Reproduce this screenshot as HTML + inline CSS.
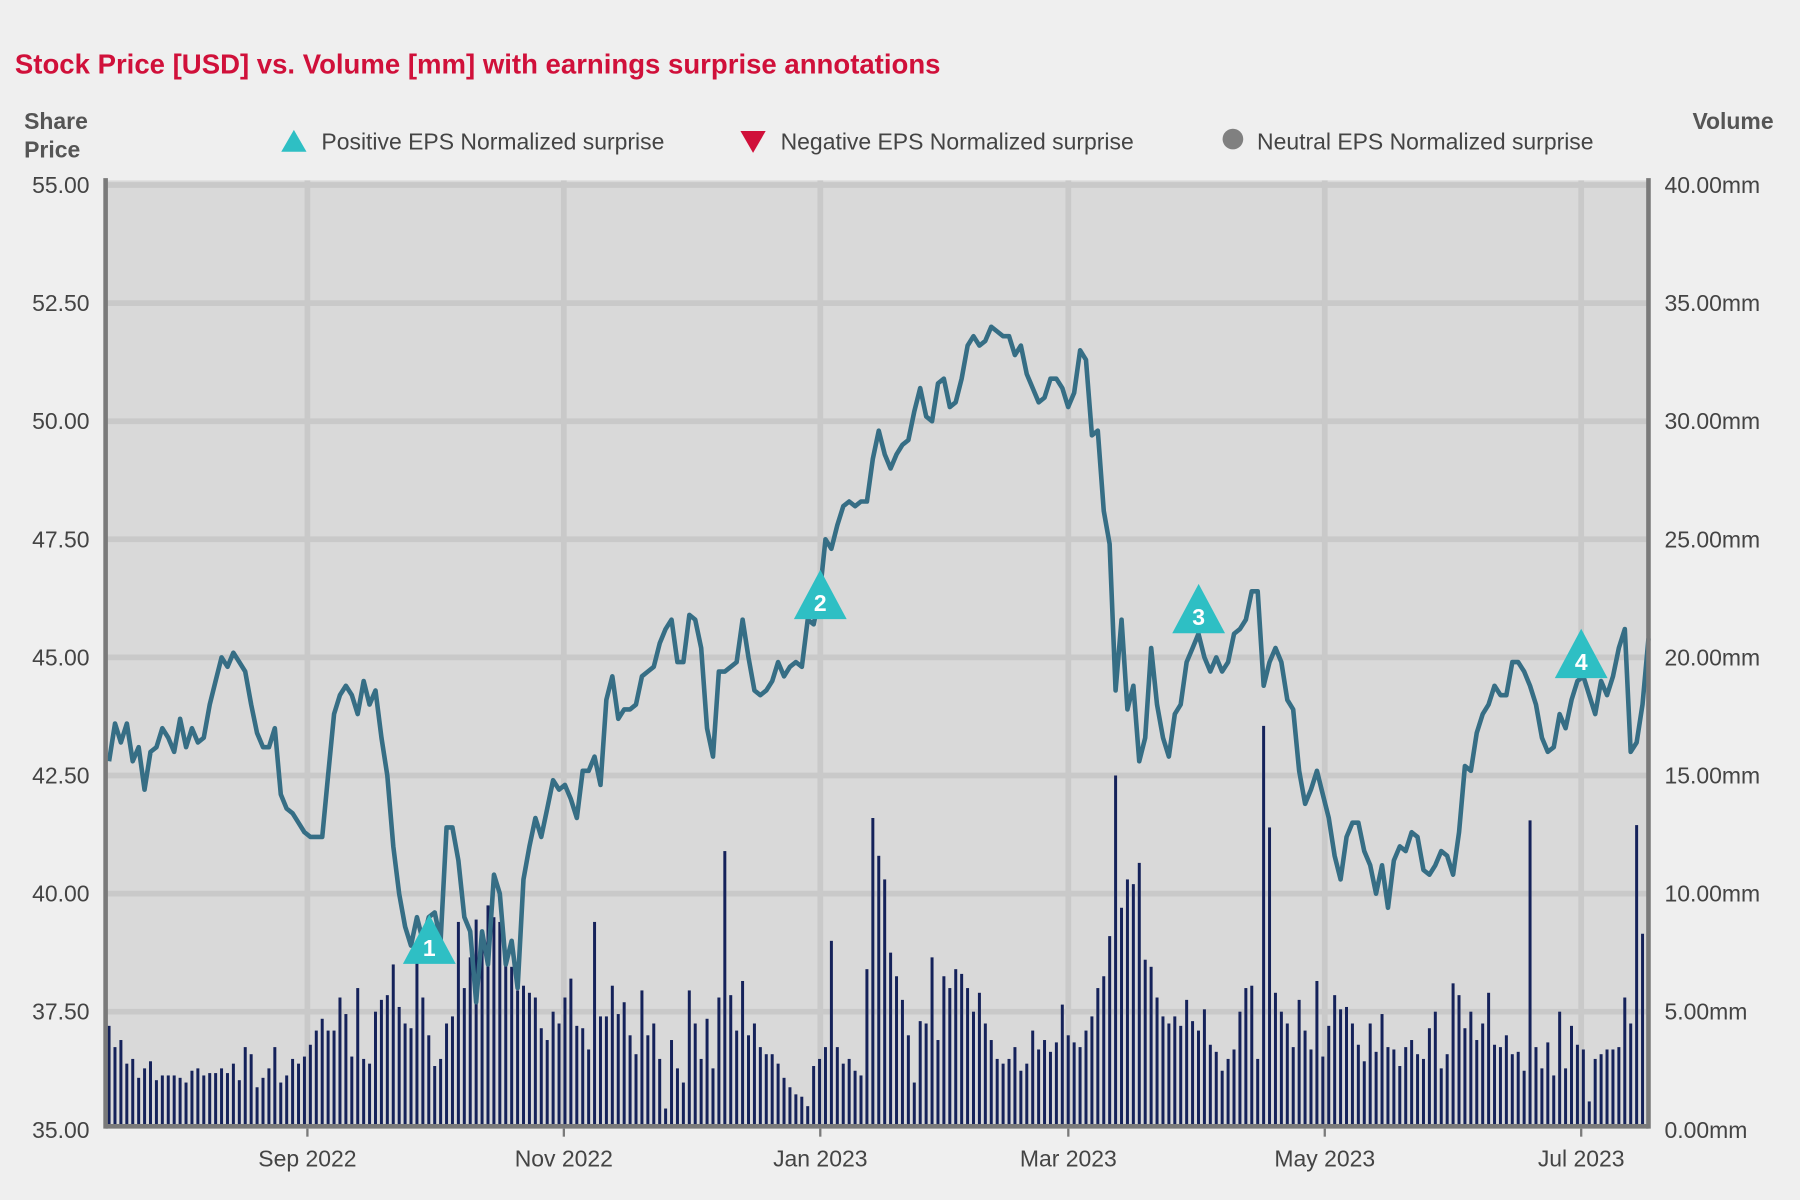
<!DOCTYPE html>
<html><head><meta charset="utf-8">
<style>
html,body{margin:0;padding:0;background:#efefef;}
svg{display:block;font-family:"Liberation Sans",sans-serif;}
</style></head>
<body>
<svg id="chart" width="1800" height="1200" viewBox="0 0 1568 1045">
  <rect x="0" y="0" width="1568" height="1045" fill="#efefef"/>
  <text x="13" y="64" font-size="24" font-weight="bold" fill="#d0103a">Stock Price [USD] vs. Volume [mm] with earnings surprise annotations</text>
  <text x="21" y="112" font-size="20" font-weight="bold" fill="#555"><tspan x="21" y="112">Share</tspan><tspan x="21" y="137">Price</tspan></text>
  <text x="1545" y="112" font-size="20" font-weight="bold" fill="#555" text-anchor="end">Volume</text>
  <g>
    <g>
      <polygon points="256,113 245,132 267,132" fill="#2ebfc4"/>
      <text x="280" y="130" font-size="20" fill="#444">Positive EPS Normalized surprise</text>
    </g>
    <g>
      <polygon points="645,114 667,114 656,133" fill="#d0103a"/>
      <text x="680" y="130" font-size="20" fill="#444">Negative EPS Normalized surprise</text>
    </g>
    <g>
      <circle cx="1074" cy="121" r="9" fill="#808080"/>
      <text x="1095" y="130" font-size="20" fill="#444">Neutral EPS Normalized surprise</text>
    </g>
  </g>
  <rect x="92" y="157" width="1344" height="824" fill="#d9d9d9"/>
  <g id="grid"></g>
  <g id="bars"></g>
  <g id="line"></g>
  <g id="annots"></g>
  <g id="axes"></g>
</svg>
<script>
const priceTicks = [35, 37.5, 40, 42.5, 45, 47.5, 50, 52.5, 55];
const volumeTicks = [0, 5, 10, 15, 20, 25, 30, 35, 40];
const monthTickDates = ['2022-09-01','2022-11-01','2023-01-01','2023-03-01','2023-05-01','2023-07-01'];
const monthTickLabels = ['Sep 2022','Nov 2022','Jan 2023','Mar 2023','May 2023','Jul 2023'];
const prices = [42.8,43.6,43.2,43.6,42.8,43.1,42.2,43.0,43.1,43.5,43.3,43.0,43.7,43.1,43.5,43.2,43.3,44.0,44.5,45.0,44.8,45.1,44.9,44.7,44.0,43.4,43.1,43.1,43.5,42.1,41.8,41.7,41.5,41.3,41.2,41.2,41.2,42.5,43.8,44.2,44.4,44.2,43.8,44.5,44.0,44.3,43.3,42.5,41.0,40.0,39.3,38.9,39.5,39.0,39.5,
39.6,39.0,41.4,41.4,40.7,39.5,39.2,37.7,39.2,38.5,40.4,40.0,38.5,39.0,38.0,40.3,41.0,41.6,41.2,41.8,42.4,42.2,42.3,42.0,41.6,42.6,42.6,42.9,42.3,44.1,
44.6,43.7,43.9,43.9,44.0,44.6,44.7,44.8,45.3,45.6,45.8,44.9,44.9,45.9,45.8,45.2,43.5,42.9,44.7,44.7,44.8,44.9,45.8,45.0,44.3,44.2,44.3,44.5,44.9,44.6,44.8,44.9,44.8,45.8,45.7,46.3,47.5,47.3,47.8,48.2,48.3,48.2,48.3,48.3,49.2,49.8,49.3,49.0,49.3,49.5,49.6,50.2,50.7,50.1,50.0,50.8,50.9,50.3,50.4,50.9,51.6,51.8,51.6,51.7,52.0,51.9,51.8,51.8,51.4,51.6,51.0,50.7,50.4,50.5,50.9,50.9,50.7,50.3,50.6,51.5,51.3,49.7,49.8,48.1,47.4,44.3,45.8,43.9,44.4,42.8,43.3,45.2,44.0,43.3,42.9,43.8,44.0,44.9,45.2,45.5,45.0,44.7,45.0,44.7,44.9,45.5,45.6,45.8,46.4,46.4,44.4,44.9,45.2,44.9,44.1,43.9,42.6,41.9,42.2,42.6,42.1,41.6,40.8,40.3,41.2,41.5,41.5,40.9,40.6,40.0,40.6,39.7,40.7,41.0,40.9,41.3,41.2,40.5,40.4,40.6,40.9,40.8,40.4,41.3,42.7,42.6,43.4,43.8,44.0,44.4,44.2,44.2,44.9,44.9,44.7,44.4,44.0,43.3,43.0,43.1,43.8,43.5,44.1,44.5,44.6,44.2,43.8,44.5,44.2,44.6,45.2,45.6,43.0,43.2,44.0,45.4];
const volumes = [4.4,3.5,3.8,2.8,3.0,2.2,2.6,2.9,2.1,2.3,
2.3,2.3,2.2,2.0,2.5,2.6,2.3,2.4,2.4,2.6,
2.4,2.8,2.1,3.5,3.2,1.8,2.2,2.6,3.5,2.0,
2.3,3.0,2.8,3.1,3.6,4.2,4.7,4.2,4.2,5.6,
4.9,3.1,6.0,3.0,2.8,5.0,5.5,5.7,7.0,5.2,
4.5,4.3,7.4,5.6,4.0,2.7,3.0,4.5,4.8,8.8,
6.0,7.3,8.9,8.0,9.5,9.0,8.8,7.1,6.9,5.9,
6.1,5.8,5.6,4.3,3.8,5.0,4.5,5.6,6.4,4.4,
4.3,3.4,8.8,4.8,4.8,6.1,4.9,5.4,4.0,3.2,
5.9,4.0,4.5,3.0,0.9,3.8,2.6,2.0,5.9,4.5,
3.0,4.7,2.6,5.6,11.8,5.7,4.2,6.3,4.0,4.5,
3.5,3.2,3.2,2.8,2.2,1.8,1.5,1.4,1.0,2.7,
3.0,3.5,8.0,3.5,2.8,3.0,2.5,2.3,6.8,13.2,
11.6,10.6,7.5,6.5,5.5,4.0,2.0,4.6,4.5,7.3,
3.8,6.5,6.0,6.8,6.6,6.0,5.0,5.8,4.5,3.8,
3.0,2.8,3.0,3.5,2.5,2.8,4.2,3.4,3.8,3.3,
3.7,5.3,4.0,3.7,3.5,4.2,4.8,6.0,6.5,8.2,
15.0,9.4,10.6,10.4,11.3,7.2,6.9,5.6,4.8,4.5,
4.8,4.4,5.5,4.6,4.2,5.1,3.6,3.3,2.5,3.0,
3.4,5.0,6.0,6.1,3.0,17.1,12.8,5.8,5.0,4.5,
3.5,5.5,4.2,3.4,6.3,3.1,4.4,5.7,5.1,5.2,
4.5,3.6,2.9,4.5,3.3,4.9,3.5,3.4,2.7,3.5,
3.8,3.2,3.0,4.3,5.0,2.6,3.2,6.2,5.7,4.3,
5.0,3.8,4.5,5.8,3.6,3.5,4.0,3.2,3.3,2.5,
13.1,3.5,2.6,3.7,2.3,5.0,2.6,4.4,3.6,3.4,
1.2,3.0,3.2,3.4,3.4,3.5,5.6,4.5,12.9,8.3,11.0];
const annotationLabels = ['1','2','3','4'];
const annotationDates = ['2022-09-30','2023-01-01','2023-04-01','2023-07-01'];
const annotationPrices = [38.9, 46.2, 45.9, 44.95];

const NS='http://www.w3.org/2000/svg';
const X0=92, X1=1436, Y0=984, Y1=161;
const startDate=new Date('2022-07-15T00:00:00Z'), endDate=new Date('2023-07-17T00:00:00Z');
function xDate(d){return X0+(d-startDate)/(endDate-startDate)*(X1-X0);}
function yPrice(p){return Y0-(p-35)/20*(Y0-Y1);}
function yVol(v){return Y0-v/40*(Y0-Y1);}
function xIndex(i,n){return X0+3+i*(X1-X0-3)/(n-1);}
function mk(tag,attrs,parent){const e=document.createElementNS(NS,tag);for(const k in attrs)e.setAttribute(k,attrs[k]);parent.appendChild(e);return e;}

const grid=document.getElementById('grid');
priceTicks.forEach((t,i)=>{
  if(i===0) return;
  const l=mk('line',{x1:X0,x2:X1,y1:yPrice(t),y2:yPrice(t),stroke:'#c9c9c9','stroke-width':5},grid);
  
  
});
monthTickDates.forEach(ds=>{
  const x=xDate(new Date(ds+'T00:00:00Z'));
  const l=mk('line',{x1:x,x2:x,y1:157,y2:981,stroke:'#c9c9c9','stroke-width':5},grid);
  
  
});

const bars=document.getElementById('bars');
volumes.forEach((v,i)=>{
  const x=xIndex(i,volumes.length);
  const r=mk('rect',{x:x-1.3,y:yVol(v),width:2.6,height:Y0-yVol(v)-3,fill:'#15225a'},bars);
  
  
});

const lineG=document.getElementById('line');
const pts=prices.map((p,i)=>xIndex(i,prices.length).toFixed(1)+','+yPrice(p).toFixed(1)).join(' ');
const pl=mk('polyline',{points:pts,fill:'none',stroke:'#366e85','stroke-width':4,'stroke-linejoin':'round'},lineG);



const ann=document.getElementById('annots');
annotationLabels.forEach((lab,i)=>{
  const cx=xDate(new Date(annotationDates[i]+'T00:00:00Z')), cy=yPrice(annotationPrices[i]);
  const g=mk('g',{},ann);
  
  
  mk('polygon',{points:`${cx},${cy-27} ${cx-23},${cy+16} ${cx+23},${cy+16}`,fill:'#2ebfc4'},g);
  const t=mk('text',{x:cx,y:cy+9,'text-anchor':'middle','font-size':20,'font-weight':'bold',fill:'#fff'},g);
  t.textContent=lab;
});

const axes=document.getElementById('axes');
[[X0,155,X0,983],[X1,155,X1,983],[X0,981,X1,981]].forEach((c,i)=>{
  const l=mk('line',{x1:c[0],y1:c[1],x2:c[2],y2:c[3],stroke:'#7a7a7a','stroke-width':4},axes);
  
  
});
priceTicks.forEach(t=>{
  const e=mk('text',{x:78,y:yPrice(t)+7,'text-anchor':'end','font-size':20,fill:'#444'},axes);
  e.textContent=t.toFixed(2);
  
  
});
volumeTicks.forEach(t=>{
  const e=mk('text',{x:1450,y:yVol(t)+7,'font-size':20,fill:'#444'},axes);
  e.textContent=t.toFixed(2)+'mm';
  
  
});
monthTickDates.forEach((ds,i)=>{
  const x=xDate(new Date(ds+'T00:00:00Z'));
  const tk=mk('line',{x1:x,x2:x,y1:983,y2:990,stroke:'#7a7a7a','stroke-width':2},axes);
  
  
  const e=mk('text',{x:x,y:1016,'text-anchor':'middle','font-size':20,fill:'#444'},axes);
  e.textContent=monthTickLabels[i];
  
  
});
</script>
</body></html>
